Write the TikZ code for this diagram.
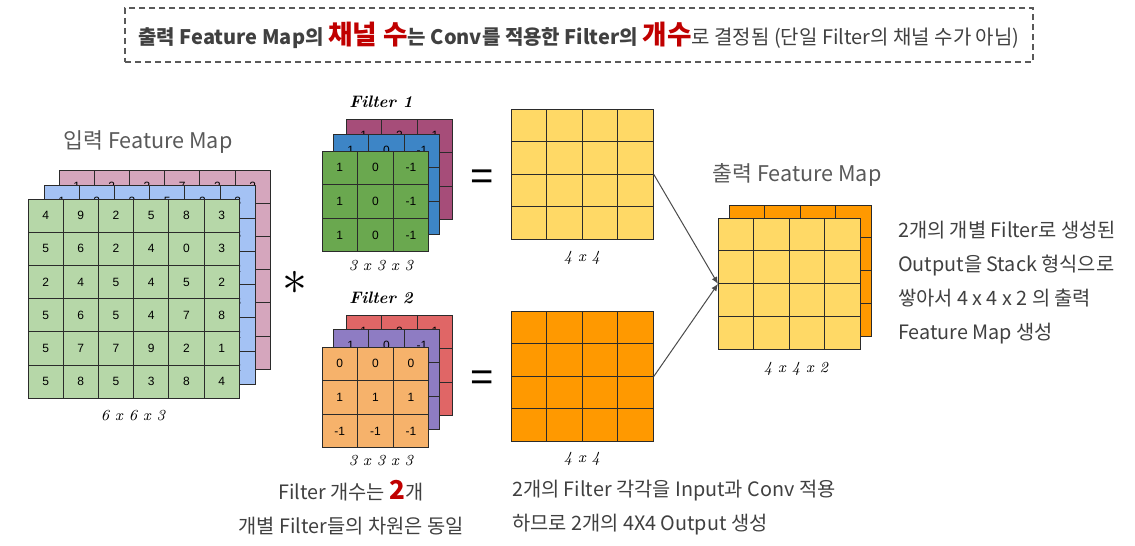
\documentclass[tikz,border=0pt]{standalone}
\usepackage{fontspec}
\newfontfamily\kr{Noto Sans CJK KR}
\newfontfamily\arial{Liberation Sans}
\usetikzlibrary{arrows.meta,calc,positioning}
\definecolor{inkgray}{HTML}{404040}
\definecolor{labgray}{HTML}{595959}
\definecolor{hilite}{HTML}{C00000}
\definecolor{gridink}{HTML}{2B2B2B}
\definecolor{ingreen}{HTML}{B6D7A8}
\definecolor{inblue}{HTML}{A4C2F4}
\definecolor{inpink}{HTML}{D5A6BD}
\definecolor{fgreen}{HTML}{6AA84F}
\definecolor{fblue}{HTML}{3D85C6}
\definecolor{fmagenta}{HTML}{A64D79}
\definecolor{forange}{HTML}{F6B26B}
\definecolor{fpurple}{HTML}{8E7CC3}
\definecolor{fred}{HTML}{E06666}
\definecolor{outyellow}{HTML}{FFD966}
\definecolor{outorange}{HTML}{FF9900}
\def\pxu{0.5pt}
\tikzset{>=Latex,
  cellbox/.style={draw=gridink,line width=.5pt},
  cellnum/.style={font=\arial\fontsize{6}{6}\selectfont,inner sep=0pt},
  dimlabel/.style={font=\fontsize{7.7}{8}\selectfont\itshape},
  filtertitle/.style={font=\fontsize{8.3}{9}\selectfont\bfseries\itshape},
  kortext/.style={font=\kr\fontsize{9.9}{17}\selectfont,text=inkgray},
  maplabel/.style={font=\kr\fontsize{10.8}{12}\selectfont,text=labgray},
  eqsign/.style={font=\arial\fontsize{20}{20}\selectfont},
  link/.style={-{Latex[length=3.5pt,width=3pt]},draw=gridink!85,line width=.5pt}}
% one layer of cells: name, left, top, cols, rows, cell w, cell h, fill
\newcommand\layer[8]{%
  \foreach \r in {1,...,#5}
    \foreach \c in {1,...,#4}
      \draw[cellbox,fill=#8] ({#2+(\c-1)*#6},{#3+(\r-1)*#7}) rectangle ++(#6,#7);
  \node[inner sep=0pt,minimum width=#4*#6*\pxu,minimum height=#5*#7*\pxu,anchor=north west] (#1) at (#2,#3) {};
}
% numbers in a layer: left, top, cell w, cell h, rows
\newcommand\layervals[5]{%
  \foreach \row [count=\r] in {#5}
    \foreach \v [count=\c] in \row
      \node[cellnum] at ({#1+(\c-0.5)*#3},{#2+(\r-0.5)*#4}) {\v};
}
\begin{document}
\begin{tikzpicture}[x=0.5pt,y=-0.5pt]
\useasboundingbox (0,0) rectangle (1135,546);
% banner
\node[draw=labgray,dashed,dash pattern=on 3pt off 2pt,line width=.75pt,
  minimum width=908*\pxu,minimum height=54*\pxu,font=\kr\fontsize{10}{11}\selectfont,text=inkgray] (banner) at (579,35)
  {{\bfseries 출력 Feature Map의 }{\color{hilite}\fontsize{13.3}{13}\selectfont\bfseries 채널 수}{\bfseries 는 Conv를 적용한 Filter의 }{\color{hilite}\fontsize{13.3}{13}\selectfont\bfseries 개수}로 결정됨 (단일 Filter의 채널 수가 아님)};
% input feature map
\node[maplabel] (inlabel) at (148,142) {입력 Feature Map};
\layer{inPink}{59}{170}{6}{6}{35.2}{33.2}{inpink}
\layervals{59}{170}{35.2}{33.2}{{1,2,3,7,2,2},{5,4,6,2,8,3},{3,1,9,4,2,2},{2,8,5,3,6,3},{7,2,4,1,5,1},{4,5,3,8,2,2}}
\layer{inBlue}{44}{185}{6}{6}{35.2}{33.2}{inblue}
\layervals{44}{185}{35.2}{33.2}{{1,2,3,5,2,3},{4,7,1,8,3,3},{2,5,6,3,1,2},{6,3,2,4,9,3},{8,1,5,7,4,2},{3,6,2,1,5,2}}
\layer{inGreen}{28}{199}{6}{6}{35.2}{33.2}{ingreen}
\layervals{28}{199}{35.2}{33.2}{{4,9,2,5,8,3},{5,6,2,4,0,3},{2,4,5,4,5,2},{5,6,5,4,7,8},{5,7,7,9,2,1},{5,8,5,3,8,4}}
\node[dimlabel] (indim) at (133,416) {6 x 6 x 3};
\node[font=\fontsize{30}{30}\selectfont] (conv) at (295,283) {$\ast$};
% filter 1
\node[filtertitle] (f1title) at (381,102) {Filter 1};
\layer{fOneC}{346}{119}{3}{3}{35.6}{33.6}{fmagenta}
\layervals{346}{119}{35.6}{33.6}{{1,2,1},{0,0,0},{-1,-2,-1}}
\layer{fOneB}{333}{134}{3}{3}{35.6}{33.6}{fblue}
\layervals{333}{134}{35.6}{33.6}{{1,0,-1},{1,0,-1},{1,0,-1}}
\layer{fOneA}{322}{151}{3}{3}{35.6}{33.6}{fgreen}
\layervals{322}{151}{35.6}{33.6}{{1,0,-1},{1,0,-1},{1,0,-1}}
\node[dimlabel] (f1dim) at (381,266) {3 x 3 x 3};
% filter 2
\node[filtertitle] (f2title) at (381,298) {Filter 2};
\layer{fTwoC}{346}{315}{3}{3}{35.6}{33.6}{fred}
\layervals{346}{315}{35.6}{33.6}{{1,2,1},{0,0,0},{-1,-2,-1}}
\layer{fTwoB}{333}{329}{3}{3}{35.6}{33.6}{fpurple}
\layervals{333}{329}{35.6}{33.6}{{1,0,-1},{1,0,-1},{1,0,-1}}
\layer{fTwoA}{322}{347}{3}{3}{35.6}{33.6}{forange}
\layervals{322}{347}{35.6}{33.6}{{0,0,0},{1,1,1},{-1,-1,-1}}
\node[dimlabel] (f2dim) at (381,461) {3 x 3 x 3};
% outputs of each filter
\node[eqsign] (eqOne) at (482,180) {=};
\node[eqsign] (eqTwo) at (482,381) {=};
\layer{outOne}{511}{109}{4}{4}{35.5}{32.5}{outyellow}
\node[dimlabel] (o1dim) at (582,258) {4 x 4};
\layer{outTwo}{511}{311}{4}{4}{35.5}{32.5}{outorange}
\node[dimlabel] (o2dim) at (582,459) {4 x 4};
% stacked output
\node[maplabel] (outlabel) at (797,175) {출력 Feature Map};
\layer{stackBack}{729}{205}{4}{4}{35.5}{32.75}{outorange}
\layer{stack}{718}{218}{4}{4}{35.5}{32.75}{outyellow}
\node[dimlabel] (stackdim) at (796,369) {4 x 4 x 2};
\draw[link] (outOne.east) -- (stack.west);
\draw[link] (outTwo.east) -- (stack.west);
% notes
\node[kortext,align=left,anchor=west] (stacknote) at (891,282.5)
  {2개의 개별 Filter로 생성된\\Output을 Stack 형식으로\\쌓아서 4 x 4 x 2 의 출력\\Feature Map 생성};
\node[kortext,align=center] (filternote) at (351,508)
  {Filter 개수는 {\color{hilite}\bfseries\fontsize{13}{13}\selectfont 2}개\\개별 Filter들의 차원은 동일};
\node[kortext,align=left,anchor=west] (outnote) at (505,508)
  {2개의 Filter 각각을 Input과 Conv 적용\\하므로 2개의 4X4 Output 생성};
\end{tikzpicture}
\end{document}
